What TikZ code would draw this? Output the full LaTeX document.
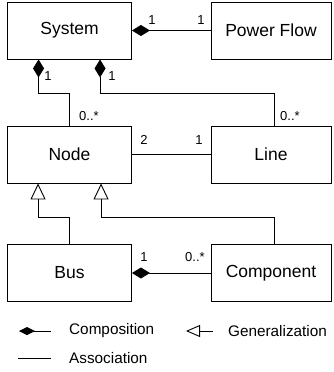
\documentclass[tikz,border=0pt]{standalone}
\usepackage{fontspec}
\setmainfont{Liberation Sans}
\usetikzlibrary{arrows.meta}
\begin{document}
\begin{tikzpicture}[x=1pt,y=-1pt,
  cls/.style={draw, line width=0.9pt, minimum width=124pt, minimum height=57pt, inner sep=0pt, font=\fontsize{17.5}{20}\selectfont},
  clsr/.style={cls, minimum width=120pt},
  conn/.style={line width=0.9pt},
  comp/.style={conn, {Diamond[length=18pt,width=11pt]}-},
  gen/.style={conn, {Triangle[open,length=16pt,width=15pt]}-},
  mult/.style={font=\fontsize{13}{15}\selectfont, inner sep=0pt},
  leg/.style={font=\fontsize{15.3}{18}\selectfont, inner sep=0pt, anchor=west}
]
\useasboundingbox (0,0) rectangle (333,372);
\node[cls]  (sys)  at (69.5,30.5) {System};
\node[clsr] (pf)   at (271,30.5)  {Power Flow};
\node[cls]  (nd)   at (69.5,154.5) {Node};
\node[clsr] (ln)   at (271,154.5) {Line};
\node[cls]  (bus)  at (69.5,273) {Bus};
\node[clsr] (cmp)  at (271,273) {Component};

\draw[comp] (sys.east) -- (pf.west);
\draw[comp] ([xshift=31.5pt]sys.south west) -- ++(0,34) -| (nd.north);
\draw[comp] ([xshift=93pt]sys.south west) -- ++(0,34) -| ([xshift=3pt]ln.north);
\draw[conn] (nd.east) -- (ln.west);
\draw[gen] ([xshift=31pt]nd.south west) -- ++(0,34) -| (bus.north);
\draw[gen] ([xshift=94pt]nd.south west) -- ++(0,34) -| ([xshift=3pt]cmp.north);
\draw[comp] (bus.east) -- (cmp.west);

\node[mult] (m1) at (152,20) {1};
\node[mult] (m2) at (201,20) {1};
\node[mult] (m3) at (48,76) {1};
\node[mult] (m4) at (112,76) {1};
\node[mult] (m5) at (89,116) {0..*};
\node[mult] (m6) at (290,116) {0..*};
\node[mult] (m7) at (144,140) {2};
\node[mult] (m8) at (199,140) {1};
\node[mult] (m9) at (144,257) {1};
\node[mult] (m10) at (195,257) {0..*};

\coordinate (lc1) at (19,331);
\coordinate (lc2) at (51,331);
\draw[conn, {Diamond[length=16pt,width=8pt]}-] (lc1) -- (lc2);
\node[leg] (lt1) at (69,331) {Composition};
\coordinate (lg1) at (186,331);
\coordinate (lg2) at (213,331);
\draw[conn, {Triangle[open,length=14pt,width=12pt]}-] (lg1) -- (lg2);
\node[leg] (lt2) at (228,331) {Generalization};
\coordinate (la1) at (18,358);
\coordinate (la2) at (51,358);
\draw[conn] (la1) -- (la2);
\node[leg] (lt3) at (69,358) {Association};
\end{tikzpicture}
\end{document}
